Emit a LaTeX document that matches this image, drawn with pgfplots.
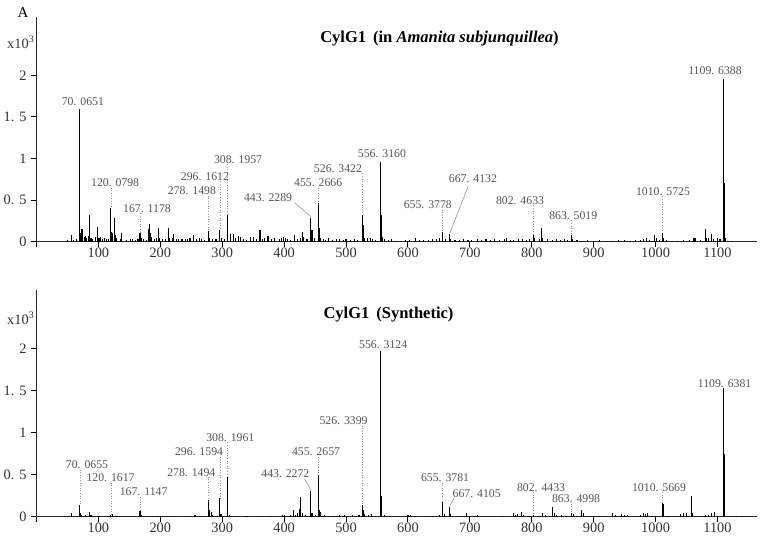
\documentclass[border=0pt]{standalone}
\usepackage{fontspec}
\setmainfont{Liberation Serif}
\usepackage{pgfplots}
\pgfplotsset{compat=1.18}
\definecolor{labgray}{RGB}{85,85,85}
\definecolor{leadgray}{RGB}{150,150,150}

\pgfplotsset{
  spec/.style={
    scale only axis, width=360bp,
    xmin=0, xmax=1163, ymin=0, ymax=2.7,
    axis x line=bottom, axis y line=left,
    axis line style={-, line width=0.7bp, black!85},
    xtick={100,200,...,1100}, extra x ticks={0}, extra x tick labels={},
    ytick={0,0.5,1,1.5,2}, yticklabels={0,0. 5,1,1. 5,2},
    tick align=outside, major tick length=2.5bp,
    tick style={line width=0.5bp, black},
    /pgf/number format/1000 sep={},
    /pgf/number format/assume math mode=true,
    tick label style={font=\fontsize{7.2}{8}\selectfont, text=black!80},
    yticklabel style={xshift=1bp},
    xticklabel style={yshift=3bp},
    clip=false,
  },
  peaks/.style={ycomb, mark=none, black, line width=0.55bp},
}
\tikzset{
  lbl/.style={font=\fontsize{5.9}{6}\selectfont, text=labgray, inner sep=0pt},
  ld/.style={leadgray, line width=0.3bp, densely dotted},
  ldd/.style={leadgray, line width=0.3bp},
}

\begin{document}
\begin{tikzpicture}
\useasboundingbox (0,0) rectangle (380bp,268.5bp);

% ---------- top: natural ----------
\begin{axis}[spec, height=112.35bp, at={(18.25bp,147.65bp)}, anchor=south west]
\addplot[peaks] table {
x y
50 0.02
57 0.08
60 0.02
65 0.03
70.07 1.60
71.07 0.10
72 0.15
73 0.14
74 0.15
75 0.08
77 0.06
79 0.07
81 0.04
84 0.07
86.1 0.32
88 0.05
91 0.03
95 0.06
98.06 0.18
100 0.05
102 0.04
104 0.06
107 0.03
110 0.04
113 0.03
117 0.03
120.08 0.40
121 0.12
123 0.11
126 0.28
127 0.08
129 0.05
135 0.03
138 0.10
145 0.02
152 0.03
155 0.03
160 0.02
164 0.03
167.12 0.10
170 0.04
173 0.03
178 0.02
181 0.15
183 0.21
184 0.10
186 0.06
190 0.03
194 0.04
197 0.16
199 0.05
203 0.03
209 0.03
213 0.16
215 0.05
219 0.04
222 0.09
226 0.03
230 0.03
235 0.03
240 0.03
244 0.03
248 0.04
253 0.08
258 0.03
263 0.05
266 0.03
271 0.02
278.15 0.13
280 0.04
285 0.03
290 0.03
296.16 0.14
299 0.04
303 0.03
308.20 0.32
309.2 0.09
313 0.09
318 0.09
321 0.05
326 0.07
329 0.06
334 0.03
339 0.02
345 0.06
350 0.06
356 0.03
361 0.14
365 0.03
368 0.04
374 0.07
380 0.03
385 0.04
392 0.03
396 0.05
399 0.06
402 0.05
406 0.03
411 0.02
417 0.08
421 0.03
426 0.04
429 0.12
431 0.06
437 0.03
443.23 0.29
445 0.14
449 0.04
455.27 0.47
456.27 0.16
459 0.05
463 0.03
467 0.02
472 0.05
478 0.02
484 0.03
490 0.03
496 0.02
500 0.03
507 0.02
513 0.03
519 0.02
526.34 0.32
527.34 0.20
530 0.05
535 0.04
539 0.04
543 0.03
548 0.02
556.32 0.96
557.32 0.32
558.3 0.06
562 0.03
568 0.02
573 0.03
580 0.01
590 0.01
596 0.02
603 0.02
612 0.04
618 0.02
625 0.02
633 0.02
640 0.03
646 0.03
651 0.05
655.38 0.12
656.4 0.06
660 0.03
667.41 0.09
669 0.03
676 0.02
683 0.02
690 0.03
697 0.02
703 0.02
712 0.03
719 0.02
726 0.03
733 0.02
740 0.03
748 0.02
756 0.03
759 0.04
765 0.02
771 0.02
778 0.03
785 0.03
791 0.02
797 0.03
802.46 0.08
805 0.04
812 0.03
815 0.17
818 0.04
826 0.03
833 0.02
840 0.03
847 0.02
853 0.03
858 0.02
863.50 0.08
866 0.03
873 0.02
880 0.01
890 0.02
900 0.01
910 0.02
920 0.01
930 0.01
940 0.02
950 0.02
960 0.01
967 0.02
975 0.02
981 0.03
986 0.04
990 0.02
998 0.08
1001 0.04
1006 0.02
1010.57 0.11
1012 0.04
1017 0.02
1025 0.01
1035 0.01
1045 0.02
1055 0.02
1062 0.04
1065 0.05
1072 0.02
1080 0.15
1082 0.05
1086 0.05
1090 0.09
1093 0.03
1100 0.04
1104 0.03
1109.64 1.95
1110.64 0.70
1111.64 0.21
1113 0.04
};
% peak labels
\node[lbl] at (axis cs:75,1.685) {70. 0651};
\node[lbl] at (axis cs:127,0.708) {120. 0798};
\draw[ld] (axis cs:120.08,0.65) -- (axis cs:120.08,0.41);
\node[lbl] at (axis cs:178.5,0.394) {167. 1178};
\draw[ld] (axis cs:167.12,0.34) -- (axis cs:167.12,0.11);
\node[lbl] at (axis cs:251,0.61) {278. 1498};
\draw[ld] (axis cs:278.15,0.555) -- (axis cs:278.15,0.14);
\node[lbl] at (axis cs:272,0.78) {296. 1612};
\draw[ld] (axis cs:296.16,0.725) -- (axis cs:296.16,0.15);
\node[lbl] at (axis cs:325.5,0.985) {308. 1957};
\draw[ld] (axis cs:308.20,0.93) -- (axis cs:308.20,0.33);
\node[lbl] at (axis cs:374,0.527) {443. 2289};
\draw[ldd] (axis cs:417,0.47) -- (axis cs:443.23,0.30);
\node[lbl] at (axis cs:455,0.708) {455. 2666};
\draw[ld] (axis cs:455.27,0.65) -- (axis cs:455.27,0.48);
\node[lbl] at (axis cs:487,0.875) {526. 3422};
\draw[ld] (axis cs:526.34,0.82) -- (axis cs:526.34,0.33);
\node[lbl] at (axis cs:558,1.057) {556. 3160};
\node[lbl] at (axis cs:632,0.44) {655. 3778};
\draw[ld] (axis cs:655.38,0.385) -- (axis cs:655.38,0.13);
\node[lbl] at (axis cs:705,0.755) {667. 4132};
\draw[ldd] (axis cs:697,0.66) -- (axis cs:667.41,0.10);
\node[lbl] at (axis cs:781,0.49) {802. 4633};
\draw[ld] (axis cs:802.46,0.435) -- (axis cs:802.46,0.09);
\node[lbl] at (axis cs:867,0.31) {863. 5019};
\draw[ld] (axis cs:863.50,0.255) -- (axis cs:863.50,0.09);
\node[lbl] at (axis cs:1012,0.60) {1010. 5725};
\draw[ld] (axis cs:1010.57,0.545) -- (axis cs:1010.57,0.12);
\node[lbl] at (axis cs:1096,2.06) {1109. 6388};
\end{axis}

% ---------- bottom: synthetic ----------
\begin{axis}[spec, height=113.35bp, at={(18.25bp,10.15bp)}, anchor=south west]
\addplot[peaks] table {
x y
57 0.05
60 0.01
70.07 0.14
71.07 0.04
73 0.02
79 0.02
86.1 0.06
88 0.02
101 0.01
115 0.01
120.16 0.02
123 0.03
130 0.01
145 0.01
155 0.01
167.11 0.07
169 0.02
181 0.01
188 0.01
196 0.01
215 0.01
240 0.01
256 0.02
265 0.01
278.15 0.20
280 0.08
282 0.06
285 0.02
290 0.01
296.16 0.22
298 0.03
308.20 0.47
309.2 0.06
312 0.02
320 0.01
340 0.01
360 0.01
380 0.01
397 0.02
400 0.02
404 0.01
410 0.02
415 0.08
419 0.02
422 0.05
425 0.09
427 0.24
429 0.05
434 0.02
443.23 0.31
445 0.04
450 0.02
455.27 0.50
456.27 0.08
459 0.06
465 0.02
472 0.01
480 0.01
490 0.02
497 0.02
503 0.01
510 0.02
516 0.01
521 0.02
526.34 0.14
527.34 0.08
530 0.03
536 0.02
541 0.03
548 0.01
555.8 1.63
556.31 1.97
557.31 0.25
562 0.02
570 0.01
585 0.01
600 0.02
604 0.02
612 0.01
630 0.01
645 0.01
651 0.02
655.38 0.17
656.4 0.08
659 0.03
667.41 0.12
669 0.03
680 0.01
695 0.05
700 0.01
712 0.02
725 0.01
740 0.01
755 0.01
770 0.05
774 0.02
777 0.03
783 0.06
786 0.02
795 0.01
802.44 0.02
810 0.01
818 0.04
822 0.02
828 0.01
834 0.11
836 0.04
840 0.02
848 0.02
856 0.01
863.50 0.04
868 0.03
872 0.01
880 0.08
883 0.04
890 0.01
900 0.01
910 0.01
920 0.01
930 0.04
935 0.02
945 0.03
950 0.02
955 0.02
965 0.01
975 0.02
980 0.04
983 0.03
987 0.05
995 0.01
1010.57 0.16
1012 0.15
1020 0.01
1030 0.01
1040 0.03
1045 0.05
1050 0.04
1058 0.25
1060 0.04
1070 0.01
1080 0.02
1085 0.02
1090 0.05
1095 0.06
1100 0.01
1109.64 1.53
1110.64 0.75
1111.64 0.05
1120 0.01
1130 0.01
1140 0.01
1150 0.01
};
\node[lbl] at (axis cs:81.6,0.616) {70. 0655};
\draw[ld] (axis cs:70.07,0.56) -- (axis cs:70.07,0.15);
\node[lbl] at (axis cs:119.7,0.46) {120. 1617};
\draw[ld] (axis cs:120.16,0.405) -- (axis cs:120.16,0.02);
\node[lbl] at (axis cs:173,0.294) {167. 1147};
\draw[ld] (axis cs:167.11,0.24) -- (axis cs:167.11,0.07);
\node[lbl] at (axis cs:250,0.53) {278. 1494};
\draw[ld] (axis cs:278.15,0.475) -- (axis cs:278.15,0.20);
\node[lbl] at (axis cs:262.5,0.77) {296. 1594};
\draw[ld] (axis cs:296.16,0.715) -- (axis cs:296.16,0.22);
\node[lbl] at (axis cs:313,0.94) {308. 1961};
\draw[ld] (axis cs:308.20,0.885) -- (axis cs:308.20,0.47);
\node[lbl] at (axis cs:402,0.51) {443. 2272};
\draw[ldd] (axis cs:433,0.45) -- (axis cs:443.23,0.32);
\node[lbl] at (axis cs:451.5,0.77) {455. 2657};
\draw[ld] (axis cs:455.27,0.715) -- (axis cs:455.27,0.50);
\node[lbl] at (axis cs:496,1.14) {526. 3399};
\draw[ld] (axis cs:526.34,1.085) -- (axis cs:526.34,0.15);
\node[lbl] at (axis cs:560,2.05) {556. 3124};
\node[lbl] at (axis cs:660,0.46) {655. 3781};
\draw[ld] (axis cs:655.38,0.405) -- (axis cs:655.38,0.17);
\node[lbl] at (axis cs:711,0.28) {667. 4105};
\draw[ldd] (axis cs:675,0.225) -- (axis cs:667.41,0.13);
\node[lbl] at (axis cs:815,0.35) {802. 4433};
\draw[ld] (axis cs:802.44,0.295) -- (axis cs:802.44,0.02);
\node[lbl] at (axis cs:871.6,0.21) {863. 4998};
\draw[ld] (axis cs:863.50,0.155) -- (axis cs:863.50,0.04);
\node[lbl] at (axis cs:1005.6,0.35) {1010. 5669};
\draw[ld] (axis cs:1010.57,0.295) -- (axis cs:1010.57,0.17);
\node[lbl] at (axis cs:1111.5,1.59) {1109. 6381};
\end{axis}

% titles and corner text
\node[font=\fontsize{8.3}{9}\selectfont\bfseries] at (219.75bp,249bp)
  {CylG1\,~(in \textit{Amanita subjunquillea})};
\node[font=\fontsize{8.3}{9}\selectfont\bfseries] at (194.25bp,111bp)
  {CylG1\,~(Synthetic)};
\node[font=\fontsize{7.2}{8}\selectfont, text=black!80] at (10.5bp,247.5bp) {x10\textsuperscript{3}};
\node[font=\fontsize{7.2}{8}\selectfont, text=black!80] at (10.5bp,109.5bp) {x10\textsuperscript{3}};
\node[font=\fontsize{7.5}{8}\selectfont] at (11.5bp,262bp) {A};
\end{tikzpicture}
\end{document}
